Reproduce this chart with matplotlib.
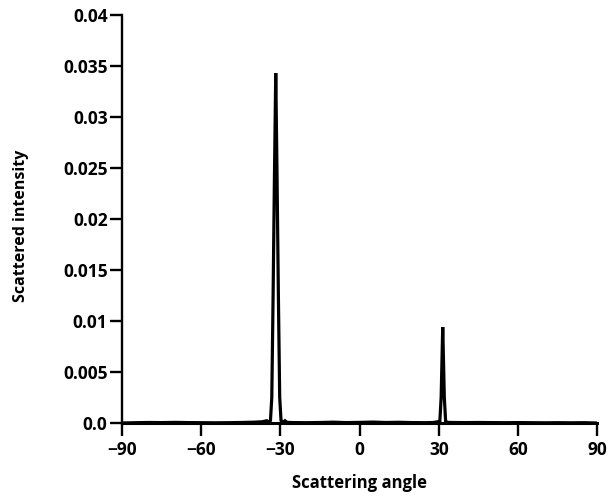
import matplotlib
matplotlib.use("Agg")
import matplotlib.pyplot as plt

# Scattered intensity versus scattering angle (degrees)
angle = [-90, -85, -80, -75, -70, -65, -60, -55, -50, -45, -40, -37, -35.2, -34.6,
         -33.8, -33.3, -32.8, -32.3, -31.8, -31.3, -30.8, -30.3, -29.8, -29.0,
         -28.3, -27.5, -25, -20, -15, -10, -5, 0, 5, 10, 15, 20, 25, 28, 29.5,
         30.4, 30.9, 31.2, 31.5, 31.8, 32.1, 32.6, 33.5, 35, 40, 45, 50, 55,
         60, 65, 70, 75, 80, 85, 90]
intensity = [0.0, 0.00003, 0.00005, 0.00004, 0.00006, 0.00004, 0.00003, 0.00002,
             0.00003, 0.00005, 0.00008, 0.00012, 0.00022, 0.00008,
             0.00025, 0.0025, 0.0125, 0.0240, 0.0343, 0.0240, 0.0125, 0.0025,
             0.00025, 0.00008, 0.00022, 0.00006, 0.00004, 0.00003, 0.00005,
             0.00008, 0.00004, 0.00006, 0.00009, 0.00005, 0.00007, 0.00004,
             0.00003, 0.00005, 0.00012, 0.00015, 0.0025, 0.0060, 0.0094, 0.0060,
             0.0025, 0.00015, 0.00006, 0.00005, 0.00004, 0.00005, 0.00004,
             0.00003, 0.00004, 0.00003, 0.00002, 0.00003, 0.00002, 0.00003, 0.0]

x_ticks = [-90, -60, -30, 0, 30, 60, 90]
x_tick_labels = ["\u221290", "\u221260", "\u221230", "0", "30", "60", "90"]
y_ticks = [0.0, 0.005, 0.01, 0.015, 0.02, 0.025, 0.03, 0.035, 0.04]
y_tick_labels = ["0.0", "0.005", "0.01", "0.015", "0.02", "0.025", "0.03", "0.035", "0.04"]

plt.rcParams["font.family"] = ["Open Sans", "DejaVu Sans"]

fig = plt.figure(figsize=(6.08, 4.98), dpi=100)
ax = fig.add_axes([0.201, 0.1506, 0.781, 0.8194])

ax.plot(angle, intensity, color="black", lw=2.3, solid_joinstyle="miter")

ax.set_xlim(-90, 90)
ax.set_ylim(0, 0.04)
ax.set_xticks(x_ticks)
ax.set_xticklabels(x_tick_labels)
ax.set_yticks(y_ticks)
ax.set_yticklabels(y_tick_labels)

for side in ("top", "right"):
    ax.spines[side].set_visible(False)
ax.spines["left"].set_linewidth(1.7)
ax.spines["bottom"].set_linewidth(2.2)

ax.tick_params(axis="both", direction="out", length=9, width=1.7,
               labelsize=12.5, colors="black")
ax.tick_params(axis="y", pad=1.5)
ax.tick_params(axis="x", pad=4)
for lab in ax.get_xticklabels() + ax.get_yticklabels():
    lab.set_fontweight("bold")

ax.set_xlabel("Scattering angle", fontsize=12, fontweight="bold")
ax.set_ylabel("Scattered intensity", fontsize=11.5, fontweight="bold")
ax.xaxis.set_label_coords(0.5, -0.125)
ax.yaxis.set_label_coords(-0.196, 0.483)

fig.savefig("out.png", dpi=100)
